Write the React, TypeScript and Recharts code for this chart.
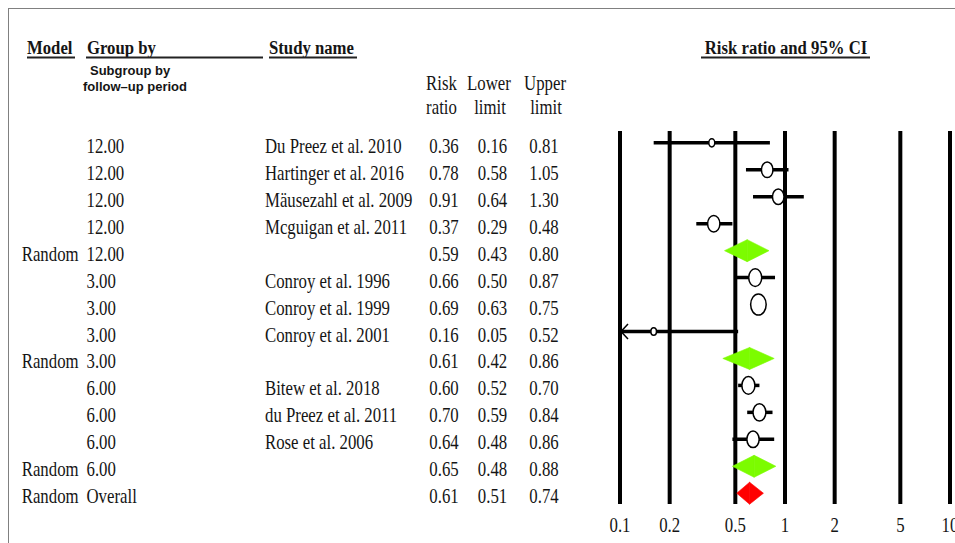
import React from "react";
import { ScatterChart, Scatter, XAxis, YAxis, CartesianGrid, ReferenceLine, Customized } from "recharts";

// table columns, one entry per row (top to bottom)
const models = ["", "", "", "", "Random", "", "", "", "Random", "", "", "", "Random", "Random"];
const groups = ["12.00", "12.00", "12.00", "12.00", "12.00", "3.00", "3.00", "3.00", "3.00", "6.00", "6.00", "6.00", "6.00", "Overall"];
const studies = [
  "Du Preez et al. 2010",
  "Hartinger et al. 2016",
  "Mäusezahl et al. 2009",
  "Mcguigan et al. 2011",
  "",
  "Conroy et al. 1996",
  "Conroy et al. 1999",
  "Conroy et al. 2001",
  "",
  "Bitew et al. 2018",
  "du Preez et al. 2011",
  "Rose et al. 2006",
  "",
  "",
];
const riskRatio = [0.36, 0.78, 0.91, 0.37, 0.59, 0.66, 0.69, 0.16, 0.61, 0.6, 0.7, 0.64, 0.65, 0.61];
const lowerLimit = [0.16, 0.58, 0.64, 0.29, 0.43, 0.5, 0.63, 0.05, 0.42, 0.52, 0.59, 0.48, 0.48, 0.51];
const upperLimit = [0.81, 1.05, 1.3, 0.48, 0.8, 0.87, 0.75, 0.52, 0.86, 0.7, 0.84, 0.86, 0.88, 0.74];
// relative study weights, none for pooled rows
const weights = [2.4, 9, 9, 10.2, 0, 11.5, 16.3, 2.1, 0, 11.5, 11.2, 10.2, 0, 0];

const xTicks = [0.1, 0.2, 0.5, 1, 2, 5, 10];
const X_MIN = 0.1;
const X_MAX = 10;

const SERIF = '"Liberation Serif", "Times New Roman", serif';
const SANS = '"Liberation Sans", Arial, sans-serif';
const INK = "#151515";

const rows = riskRatio.map((rr, i) => ({
  row: i + 1,
  model: models[i],
  group: groups[i],
  study: studies[i],
  rr,
  lo: lowerLimit[i],
  hi: upperLimit[i],
  w: weights[i],
  kind: studies[i] ? "study" : groups[i] === "Overall" ? "overall" : "subgroup",
}));

const studyPoints = rows.filter((r) => r.kind === "study").map((r) => ({ x: r.rr, y: r.row, w: r.w }));

// squeezed serif text like the original figure
function T({ x, y, size = 20, sx = 0.84, anchor = "start", bold = false, family = SERIF, children }: any) {
  return (
    <text
      transform={`translate(${x},${y}) scale(${sx},1)`}
      fontSize={size}
      fontFamily={family}
      fontWeight={bold ? "bold" : "normal"}
      textAnchor={anchor}
      fill={INK}
    >
      {children}
    </text>
  );
}

function Headers() {
  const line = (x1: number, x2: number) => <line x1={x1} x2={x2} y1={48.5} y2={48.5} stroke="#222" strokeWidth={2} />;
  return (
    <g>
      <T x={18} y={45} size={19} sx={0.88} bold>Model</T>
      {line(18, 66)}
      <T x={78} y={45} size={19} sx={0.88} bold>Group by</T>
      {line(77, 254)}
      <T x={260} y={45} size={19} sx={0.88} bold>Study name</T>
      {line(260, 348)}
      <T x={777} y={45} size={19} sx={0.88} bold anchor="middle">Risk ratio and 95% CI</T>
      {line(692, 861)}
      <T x={81} y={65.5} size={13} sx={1} bold family={SANS}>Subgroup by</T>
      <T x={74} y={81.8} size={13} sx={1} bold family={SANS}>follow–up period</T>
      <T x={432.5} y={81} anchor="middle">Risk</T>
      <T x={432.5} y={105} anchor="middle">ratio</T>
      <T x={480} y={81} anchor="middle">Lower</T>
      <T x={481} y={105} anchor="middle">limit</T>
      <T x={536} y={81} anchor="middle">Upper</T>
      <T x={537} y={105} anchor="middle">limit</T>
    </g>
  );
}

function RowTick({ y, payload }: any) {
  const r = rows[payload.value - 1];
  if (!r) return null;
  const b = y + 10;
  return (
    <g>
      {r.model && <T x={12.7} y={b}>{r.model}</T>}
      <T x={77.5} y={b}>{r.group}</T>
      {r.study && <T x={256} y={b}>{r.study}</T>}
      <T x={435} y={b} anchor="middle">{r.rr.toFixed(2)}</T>
      <T x={483.5} y={b} anchor="middle">{r.lo.toFixed(2)}</T>
      <T x={535} y={b} anchor="middle">{r.hi.toFixed(2)}</T>
    </g>
  );
}

function XTick({ x, y, payload }: any) {
  return <T x={x} y={y + 28} anchor="middle">{String(payload.value)}</T>;
}

const ciShape = (arrow: boolean) => (p: any) => (
  <g>
    <line x1={p.x1} y1={p.y1} x2={p.x2} y2={p.y2} stroke="#000" strokeWidth={3.5} />
    {arrow && (
      <path
        d={`M${p.x1 + 8},${p.y1 - 7.5} L${p.x1 + 1},${p.y1} L${p.x1 + 8},${p.y1 + 7.5}`}
        stroke="#000"
        strokeWidth={1.5}
        fill="none"
      />
    )}
  </g>
);

const HALF = 11;
const leftHalf = (color: string) => (p: any) => (
  <polygon
    points={`${p.x1},${p.y1} ${p.x2},${p.y1 - HALF} ${p.x2},${p.y1 + HALF}`}
    fill={color}
    stroke={color}
    strokeWidth={0.6}
  />
);
const rightHalf = (color: string) => (p: any) => (
  <polygon
    points={`${p.x1},${p.y1 - HALF} ${p.x2},${p.y1} ${p.x1},${p.y1 + HALF}`}
    fill={color}
    stroke={color}
    strokeWidth={0.6}
  />
);

function StudyMarker({ cx, cy, payload }: any) {
  const ry = 2.6 * Math.sqrt(payload.w);
  return <ellipse cx={cx} cy={cy} rx={ry * 0.74} ry={ry} fill="#fff" stroke="#000" strokeWidth={1.5} />;
}

export default function App() {
  return (
    <div
      style={{
        position: "fixed",
        top: 8,
        left: 8,
        width: 947,
        height: 535,
        overflow: "hidden",
        borderTop: "1px solid #808080",
        borderLeft: "1px solid #808080",
        boxSizing: "border-box",
        background: "#fff",
      }}
    >
      <ScatterChart width={1000} height={534} margin={{ top: 122, right: 59, bottom: 9, left: 0 }}>
        <CartesianGrid horizontal={false} stroke="#000" strokeWidth={4} />
        <XAxis
          type="number"
          dataKey="x"
          scale="log"
          domain={[X_MIN, X_MAX]}
          ticks={xTicks}
          allowDataOverflow
          interval={0}
          height={30}
          axisLine={false}
          tickLine={false}
          tickSize={0}
          tickMargin={0}
          tick={<XTick />}
        />
        <YAxis
          type="number"
          dataKey="y"
          domain={[0.56, 14.4]}
          reversed
          allowDataOverflow
          ticks={rows.map((r) => r.row)}
          interval={0}
          width={611}
          axisLine={false}
          tickLine={false}
          tick={<RowTick />}
        />
        <Customized component={<Headers />} />
        {rows
          .filter((r) => r.kind === "study")
          .map((r) => (
            <ReferenceLine
              key={`ci-${r.row}`}
              segment={[
                { x: Math.max(r.lo, X_MIN), y: r.row },
                { x: r.hi, y: r.row },
              ]}
              ifOverflow="visible"
              shape={ciShape(r.lo < X_MIN)}
            />
          ))}
        {rows
          .filter((r) => r.kind !== "study")
          .map((r) => {
            const color = r.kind === "overall" ? "#ff0000" : "#7cfc00";
            return [
              <ReferenceLine
                key={`dl-${r.row}`}
                segment={[
                  { x: r.lo, y: r.row },
                  { x: r.rr, y: r.row },
                ]}
                ifOverflow="visible"
                shape={leftHalf(color)}
              />,
              <ReferenceLine
                key={`dr-${r.row}`}
                segment={[
                  { x: r.rr, y: r.row },
                  { x: r.hi, y: r.row },
                ]}
                ifOverflow="visible"
                shape={rightHalf(color)}
              />,
            ];
          })}
        <Scatter data={studyPoints} shape={<StudyMarker />} isAnimationActive={false} />
      </ScatterChart>
    </div>
  );
}
